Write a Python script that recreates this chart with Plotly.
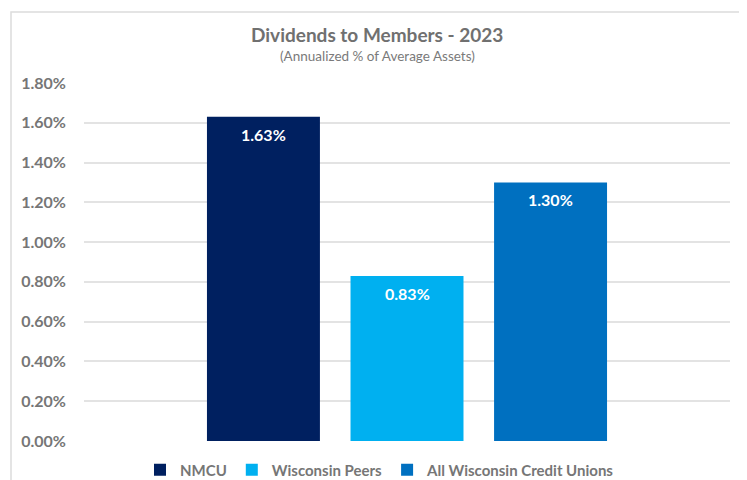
import plotly.graph_objects as go

series = ["NMCU", "Wisconsin Peers", "All Wisconsin Credit Unions"]
values = [1.63, 0.83, 1.30]
colors = ["#002060", "#00B0F0", "#0070C0"]
tick_vals = [0.0, 0.2, 0.4, 0.6, 0.8, 1.0, 1.2, 1.4, 1.6, 1.8]
tick_text = ["0.00%", "0.20%", "0.40%", "0.60%", "0.80%", "1.00%", "1.20%", "1.40%", "1.60%", "1.80%"]

FONT = "Lato, 'Open Sans', sans-serif"
GRAY = "#767676"

fig = go.Figure()
for name, v, c in zip(series, values, colors):
    fig.add_trace(go.Bar(x=[name], y=[v], name=name, marker=dict(color=c, line=dict(width=0)),
                         width=0.787, hoverinfo="skip"))
    fig.add_annotation(x=name, y=v, text=f"{v:.2f}%", showarrow=False, yanchor="top", yshift=-6,
                       font=dict(family=FONT, size=16, color="white", weight="bold"))

fig.update_layout(
    width=739, height=472,
    margin=dict(l=76, r=17, t=75, b=39, autoexpand=False),
    paper_bgcolor="white", plot_bgcolor="white",
    barmode="overlay",
    showlegend=True,
    legend=dict(orientation="h", x=(380 - 84) / 646, xanchor="center", y=-0.081, yanchor="middle",
                font=dict(family=FONT, size=15, color=GRAY, weight="bold"),
                itemsizing="constant", traceorder="normal", itemwidth=30),
    xaxis=dict(range=[-1.25, 3.25], showticklabels=False, showgrid=False, zeroline=False,
               showline=False, type="category"),
    yaxis=dict(range=[0, 1.8], tickvals=tick_vals, ticktext=tick_text, showgrid=True,
               gridcolor="#e3e3e3", gridwidth=1.5, zeroline=False, showline=False,
               ticklabelstandoff=17,
               tickfont=dict(family=FONT, size=16, color=GRAY, weight="bold")),
    annotations=list(fig.layout.annotations) + [
        dict(text="Dividends to Members - 2023", xref="paper", yref="paper",
             x=(377 - 84) / 646, y=1 + (83 - 34) / 358, showarrow=False,
             xanchor="center", yanchor="middle",
             font=dict(family=FONT, size=19, color="#707070", weight="bold")),
        dict(text="(Annualized % of Average Assets)", xref="paper", yref="paper",
             x=(377 - 84) / 646, y=1 + (83 - 56) / 358, showarrow=False,
             xanchor="center", yanchor="middle",
             font=dict(family=FONT, size=13.5, color="#7a7a7a")),
    ],
    shapes=[dict(type="rect", xref="paper", yref="paper",
                 x0=(11 - 84) / 646, x1=(743 - 84) / 646,
                 y0=-0.3, y1=1 + (83 - 12) / 358,
                 line=dict(color="#dcdcdc", width=1.5), fillcolor="rgba(0,0,0,0)", layer="below")],
)

fig.write_html("out.html")
